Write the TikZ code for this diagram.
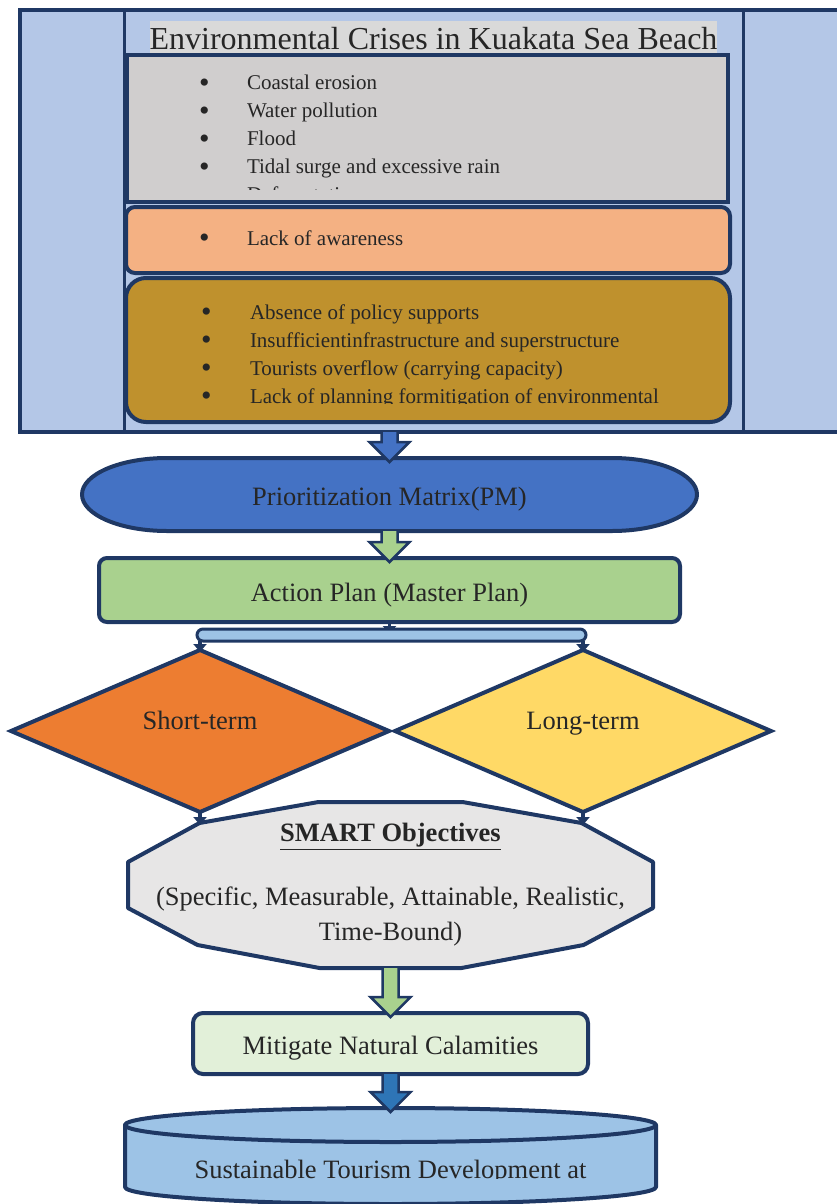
\documentclass[tikz,border=0pt]{standalone}
\usepackage{fontspec}
\setmainfont{Liberation Serif}
\usetikzlibrary{shapes.geometric,arrows.meta,calc}
\definecolor{navy}{HTML}{1F3864}
\definecolor{txt}{HTML}{262626}
\definecolor{frameblue}{HTML}{B4C7E7}
\definecolor{titlegray}{HTML}{D9D9D9}
\definecolor{boxgray}{HTML}{D0CECE}
\definecolor{orangelight}{HTML}{F4B183}
\definecolor{gold}{HTML}{BF912D}
\definecolor{pmblue}{HTML}{4472C4}
\definecolor{greenbox}{HTML}{A9D18E}
\definecolor{barblue}{HTML}{9DC3E6}
\definecolor{orangedark}{HTML}{ED7D31}
\definecolor{yellowbox}{HTML}{FFD966}
\definecolor{smartgray}{HTML}{E7E6E6}
\definecolor{mitgreen}{HTML}{E2F0D9}
\definecolor{midblue}{HTML}{2E75B6}
\definecolor{cylblue}{HTML}{9DC3E6}
\newcommand{\blkarrow}[3]{%
  \draw[draw=navy, line width=2.5pt, fill=#3, line join=miter]
    let \p1=(#1), \p2=(#2) in
    (\x1-8pt,\y1) -- (\x1-8pt,\y2+16pt) -- (\x1-20pt,\y2+16pt) -- (\x1,\y2-4pt)
    -- (\x1+20pt,\y2+16pt) -- (\x1+8pt,\y2+16pt) -- (\x1+8pt,\y1);}
\newcommand{\bul}{\raisebox{-2.5pt}{\fontsize{30}{28}\selectfont •}}
\begin{document}
\begin{tikzpicture}[x=1pt,y=-1pt,
  box/.style={draw=navy, line width=4pt, outer sep=0pt, inner sep=0pt, text=txt},
  shp/.style={draw=navy, line width=4pt, line join=round},
  main/.style={font=\fontsize{26.5}{35}\selectfont},
  onerow/.style={text height=22pt, text depth=0pt},
  blist/.style={anchor=base west, inner sep=0pt, outer sep=0pt, text=txt, font=\fontsize{21}{28}\selectfont},
  conn/.style={draw=navy, line width=3.5pt, -{Triangle[width=13pt,length=8pt]}}]
\useasboundingbox (0,0) rectangle (836,1204);

% outer frame
\node[box, fill=frameblue, minimum width=860pt, minimum height=422pt] (frame) at (450,221) {};
\draw[navy, line width=3pt] (124,10) -- (124,432);
\draw[navy, line width=3pt] (743,10) -- (743,432);

% title
\node[fill=titlegray, inner sep=0pt, outer sep=0pt, text height=29pt, text depth=4pt, anchor=base,
      font=\fontsize{32}{38}\selectfont, text=txt] (title) at (433.5,50) {Environmental Crises in Kuakata Sea Beach};

% grey box
\node[box, fill=boxgray, minimum width=601pt, minimum height=147pt] (crisis) at (427.5,128.5) {};
\begin{scope}
\clip (127,55) rectangle (728,189);
\node[blist] (crisislist) at (199,90) {\begin{tabular}[t]{@{}p{48pt}@{}l@{}}
\bul&Coastal erosion\\ \bul&Water pollution\\ \bul&Flood\\ \bul&Tidal surge and excessive rain\\ \bul&Deforestation\end{tabular}};
\end{scope}

% orange box
\node[box, fill=orangelight, rounded corners=9pt, minimum width=604pt, minimum height=66pt] (aware) at (428,240) {};
\node[blist] (awarelist) at (199,245) {\begin{tabular}[t]{@{}p{48pt}@{}l@{}}\bul&Lack of awareness\end{tabular}};

% gold box
\node[box, fill=gold, rounded corners=20pt, minimum width=604pt, minimum height=144pt] (policy) at (428,350) {};
\begin{scope}
\clip (126,278) rectangle (730,403.5);
\node[blist] (policylist) at (201,319) {\begin{tabular}[t]{@{}p{49pt}@{}l@{}}
\bul&Absence of policy supports\\ \bul&Insufficientinfrastructure and superstructure\\
\bul&Tourists overflow (carrying capacity)\\ \bul&Lack of planning formitigation of environmental\end{tabular}};
\end{scope}

% prioritization matrix
\coordinate (pmc) at (389.5,494.5);
\draw[shp, fill=pmblue, shift={(pmc)}] (-222.5,-36.5) -- (222.5,-36.5)
  arc[start angle=90, end angle=-90, x radius=85pt, y radius=36.5pt] -- (-222.5,36.5)
  arc[start angle=270, end angle=90, x radius=85pt, y radius=36.5pt] -- cycle;
\node[main, onerow, inner sep=0pt, outer sep=0pt, text=txt, minimum width=615pt, minimum height=73pt] (pm) at (pmc) {Prioritization Matrix(PM)};

% action plan
\node[box, fill=greenbox, rounded corners=8pt, minimum width=581pt, minimum height=64pt, main, onerow] (ap) at (389.5,590) {Action Plan (Master Plan)};

% diamonds
\node[diamond, draw=navy, line width=4pt, fill=orangedark, minimum width=378pt, minimum height=162pt,
      inner sep=0pt, outer sep=0pt, text=txt, main] (st) at (200,731) {\raisebox{2pt}[0pt][0pt]{Short-term}};
\node[diamond, draw=navy, line width=4pt, fill=yellowbox, minimum width=376pt, minimum height=162pt,
      inner sep=0pt, outer sep=0pt, text=txt, main] (lt) at (583,731) {\raisebox{2pt}[0pt][0pt]{Long-term}};

% split connector
\draw[conn] (ap.south) -- ++(0,12);
\draw[navy, line width=3pt, fill=barblue, rounded corners=6pt] ([shift={(-3,-21)}]st.north) rectangle ([shift={(3,-9)}]lt.north);
\draw[conn] ([shift={(0,-9)}]st.north) -- ([shift={(0,2)}]st.north);
\draw[conn] ([shift={(0,-9)}]lt.north) -- ([shift={(0,2)}]lt.north);

% SMART objectives
\coordinate (smc) at (390.5,885);
\draw[shp, fill=smartgray, shift={(smc)}] (-72,-83) -- (72,-83) -- (191,-62) -- (262.5,-23) -- (262.5,23)
  -- (193,60) -- (71,83) -- (-71,83) -- (-193,60) -- (-262.5,23) -- (-262.5,-23) -- (-191,-62) -- cycle;
\node[main, align=center, inner sep=0pt, outer sep=0pt, text=txt, minimum width=525pt, minimum height=166pt] (smart) at (smc)
  {\underline{\textbf{SMART Objectives}}\\[29pt](Specific, Measurable, Attainable, Realistic,\\Time-Bound)};
\draw[conn] (st.south) -- ++(0,13);
\draw[conn] (lt.south) -- ++(0,13);

% mitigate
\node[box, fill=mitgreen, rounded corners=10pt, minimum width=395pt, minimum height=61pt, main, onerow] (mit) at (390.5,1043.5) {Mitigate Natural Calamities};

% cylinder
\coordinate (cyc) at (390.5,1156);
\draw[shp, fill=cylblue, shift={(cyc)}] (-265.5,-31) -- (-265.5,31)
  arc[start angle=180, end angle=360, x radius=265.5pt, y radius=17pt] -- (265.5,-31) -- cycle;
\draw[shp, fill=cylblue, shift={(cyc)}] (0,-31) ellipse[x radius=265.5pt, y radius=17pt];
\node[inner sep=0pt, outer sep=0pt, minimum width=531pt, minimum height=96pt] (std) at (cyc) {};
\begin{scope}
\clip (125,1108) rectangle (660,1178.5);
\node[main, anchor=base, inner sep=0pt, text=txt] (stdtext) at (390.5,1178) {Sustainable Tourism Development at};
\end{scope}

% block arrows
\blkarrow{pm.north |- frame.south}{pm.north}{pmblue}
\blkarrow{pm.south}{ap.north}{greenbox}
\blkarrow{smart.south}{mit.north}{greenbox}
\blkarrow{mit.south}{std.north}{midblue}
\end{tikzpicture}
\end{document}
